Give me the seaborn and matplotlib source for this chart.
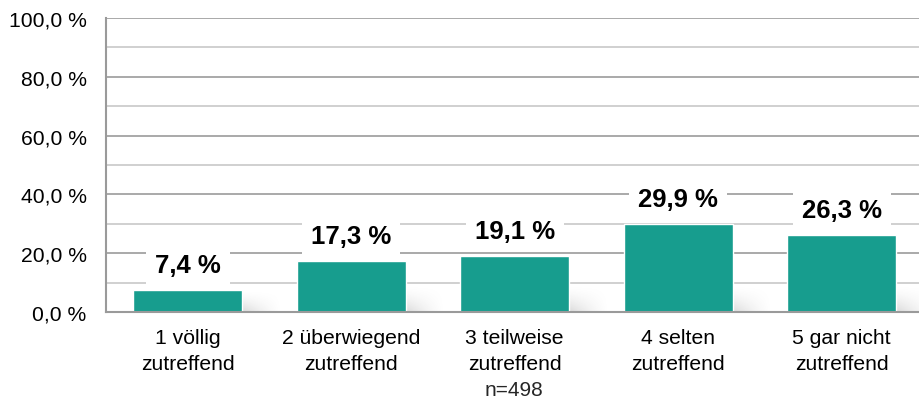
import numpy as np
import pandas as pd
import matplotlib as mpl
mpl.use("Agg")
import matplotlib.pyplot as plt
import seaborn as sns

# data
categories = ["1 völlig\nzutreffend", "2 überwiegend\nzutreffend", "3 teilweise\nzutreffend",
              "4 selten\nzutreffend", "5 gar nicht\nzutreffend"]
values = [7.4, 17.3, 19.1, 29.9, 26.3]
y_ticks = [0, 20, 40, 60, 80, 100]
n_label = "n=498"

bar_color = "#179d8e"

sns.set_style("white")
plt.rcParams['font.family'] = ['Liberation Sans', 'DejaVu Sans']

df = pd.DataFrame({'Kategorie': categories, 'Anteil': values})

fig = plt.figure(figsize=(9.2, 4.02), dpi=100)
ax = fig.add_axes([106 / 920, 1 - 313 / 402, 1 - 106 / 920, (313 - 19) / 402])

# grid lines: light every 10 %, darker every 20 %
for v in range(10, 101, 10):
    major = v % 20 == 0
    ax.axhline(v, color="#a3a3a3" if major else "#cdcdcd", lw=1.3, zorder=0)

sns.barplot(data=df, x='Kategorie', y='Anteil', color=bar_color, width=0.667,
            saturation=1, ax=ax, zorder=3)

# soft shadow to the lower right of each bar
grad = np.linspace(1, 0, 40)[None, :] ** 1.3 * np.linspace(0, 1, 20)[:, None] ** 1.5
shadow = np.zeros((20, 40, 4))
shadow[..., :3] = 0.55
shadow[..., 3] = grad * 0.35
for p in ax.patches:
    x1 = p.get_x() + p.get_width()
    h = min(p.get_height(), 9)
    ax.imshow(shadow, extent=(x1 - 0.02, x1 + 0.24, 0, h), aspect='auto',
              interpolation='bicubic', zorder=2)

for p, v in zip(ax.patches, values):
    lbl = f"{v:.1f} %".replace(".", ",")
    ax.annotate(lbl, (p.get_x() + p.get_width() / 2, v), xytext=(0, 13),
                textcoords='offset points', ha='center', va='baseline',
                fontsize=18.5, fontweight='bold', color='black', zorder=5,
                bbox=dict(boxstyle='square,pad=0.35', fc='white', ec='none'))

ax.set_xlim(-0.5, 4.48)
ax.set_ylim(0, 100)
ax.set_yticks(y_ticks)
ax.set_yticklabels([f"{t:.1f} %".replace(".", ",") for t in y_ticks])
ax.set_xlabel("")
ax.set_ylabel("")
ax.tick_params(axis='both', length=0, labelsize=15.2, colors='black')
ax.tick_params(axis='y', pad=14)
ax.tick_params(axis='x', pad=11.5)
for lab in ax.get_xticklabels():
    lab.set_linespacing(1.45)

for s in ['top', 'right']:
    ax.spines[s].set_visible(False)
for s in ['left', 'bottom']:
    ax.spines[s].set_color("#9a9a9a")
    ax.spines[s].set_linewidth(1.5)
    ax.spines[s].set_zorder(4)

fig.text(514 / 920, 1 - 400 / 402, n_label, ha='center', va='bottom', fontsize=15)

fig.savefig("out.png", dpi=100)
